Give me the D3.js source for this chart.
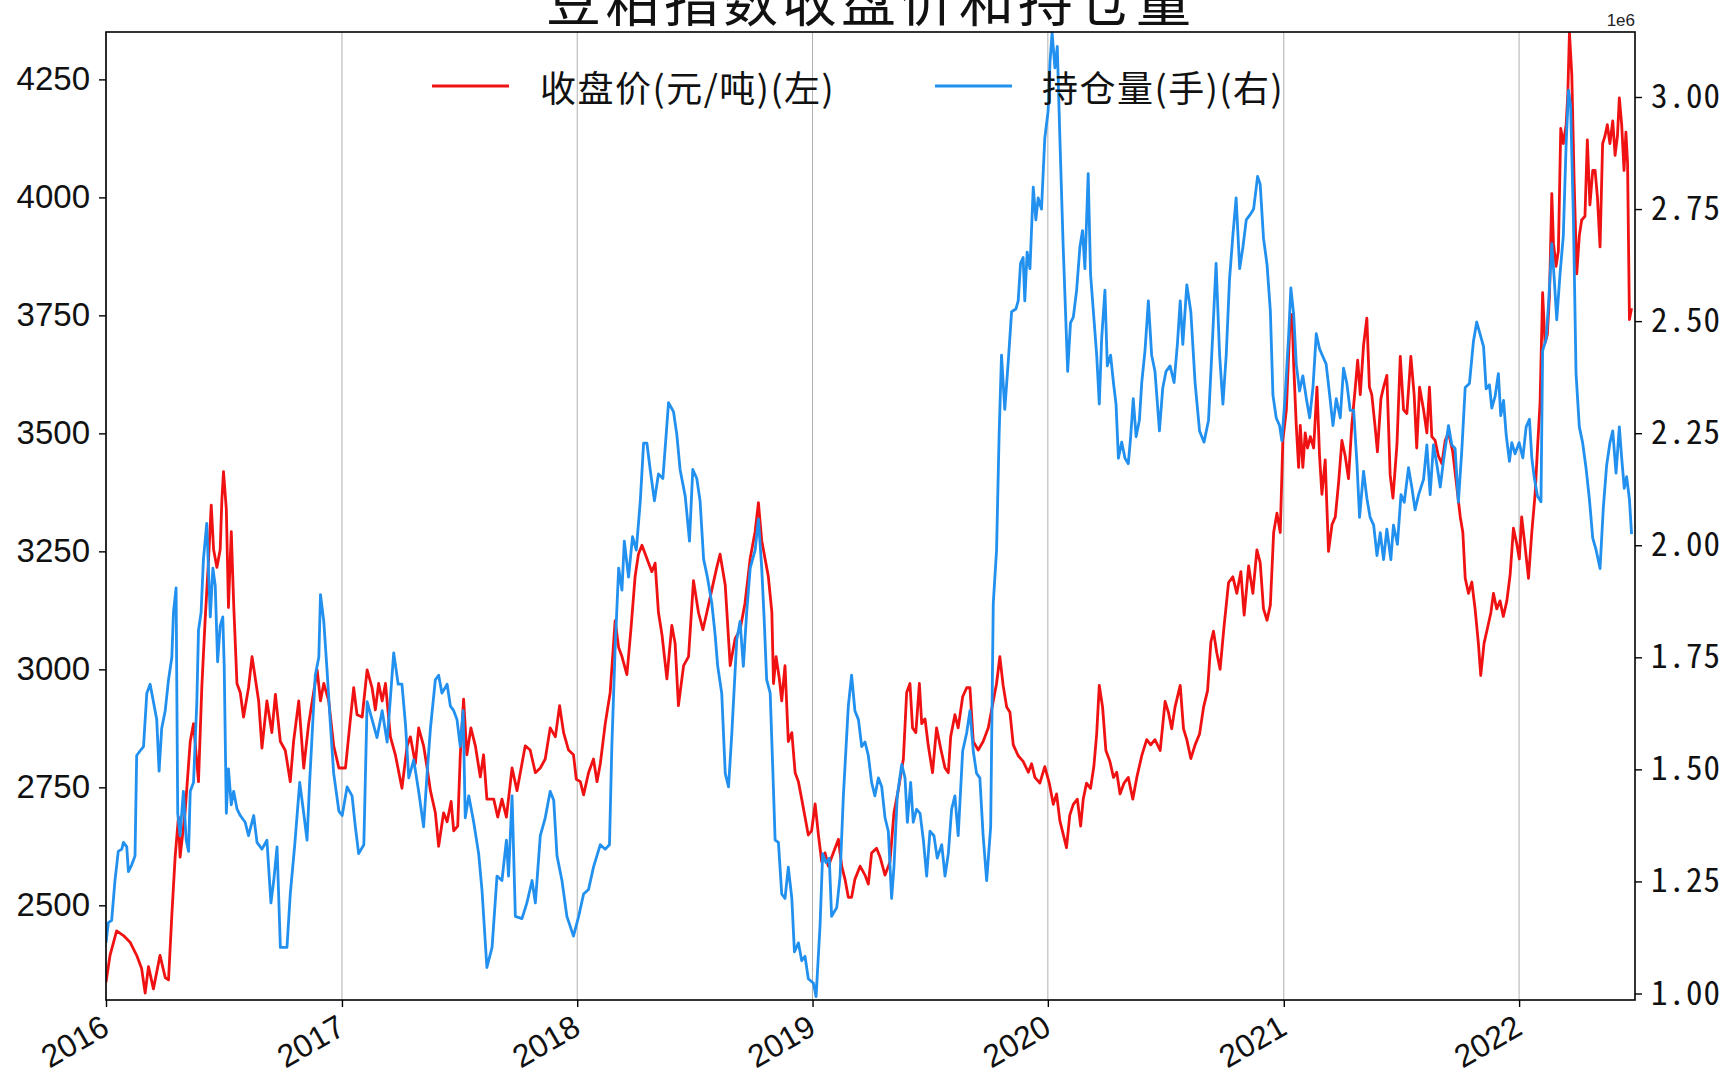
<!DOCTYPE html>
<html><head><meta charset="utf-8">
<script src="https://cdn.jsdelivr.net/npm/d3@7"></script>
<style>
html,body{margin:0;padding:0;background:#fff;}
svg{display:block;}
</style></head><body>
<svg id="chart" width="1729" height="1079"></svg>
<script>
const chartTitle = "豆粕指数收盘价和持仓量";
const seriesNames = ["收盘价(元/吨)(左)", "持仓量(手)(右)"];
const yearTicks = [2016, 2017, 2018, 2019, 2020, 2021, 2022];
const leftTicks = [2500, 2750, 3000, 3250, 3500, 3750, 4000, 4250];
const rightTicks = [1000000, 1250000, 1500000, 1750000, 2000000, 2250000, 2500000, 2750000, 3000000];

// [decimal year, close price (yuan/ton)]
const priceData = [
[2016.000,2337],[2016.017,2394],[2016.045,2446],[2016.074,2436],[2016.102,2422],[2016.130,2394],[2016.151,2366],[2016.166,2314],[2016.180,2370],[2016.201,2323],
[2016.229,2394],[2016.251,2347],[2016.265,2342],[2016.279,2479],[2016.293,2602],[2016.307,2687],[2016.314,2602],[2016.335,2696],[2016.357,2847],[2016.371,2885],
[2016.392,2762],[2016.406,2961],[2016.420,3103],[2016.435,3235],[2016.446,3348],[2016.456,3254],[2016.470,3216],[2016.484,3254],[2016.491,3358],[2016.498,3419],
[2016.510,3339],[2016.519,3131],[2016.531,3292],[2016.541,3140],[2016.555,2970],[2016.569,2951],[2016.583,2899],[2016.604,2961],[2016.619,3027],[2016.633,2980],
[2016.647,2933],[2016.661,2833],[2016.682,2933],[2016.703,2866],[2016.718,2947],[2016.739,2847],[2016.760,2828],[2016.781,2762],[2016.795,2847],[2016.817,2933],
[2016.838,2791],[2016.859,2885],[2016.880,2951],[2016.895,2999],[2016.909,2933],[2016.923,2970],[2016.944,2933],[2016.965,2838],[2016.987,2791],[2017.015,2791],
[2017.036,2895],[2017.050,2961],[2017.064,2904],[2017.086,2899],[2017.107,2999],[2017.128,2961],[2017.142,2914],[2017.156,2970],[2017.171,2933],[2017.185,2970],
[2017.206,2857],[2017.227,2819],[2017.255,2748],[2017.277,2838],[2017.291,2857],[2017.312,2800],[2017.326,2876],
[2017.347,2838],[2017.362,2791],[2017.376,2743],[2017.397,2696],[2017.411,2625],[2017.432,2696],[2017.447,2677],[2017.464,2720],[2017.475,2658],[2017.492,2668],
[2017.503,2819],[2017.517,2937],[2017.531,2819],[2017.548,2876],[2017.567,2838],[2017.588,2772],[2017.602,2819],[2017.616,2725],[2017.645,2725],[2017.662,2687],
[2017.680,2725],[2017.699,2687],[2017.723,2791],[2017.744,2743],[2017.779,2838],[2017.800,2829],[2017.822,2781],[2017.843,2791],[2017.864,2810],[2017.885,2876],
[2017.907,2857],[2017.925,2923],[2017.942,2866],[2017.963,2829],[2017.984,2819],[2017.996,2767],[2018.013,2762],[2018.027,2734],[2018.048,2781],[2018.069,2810],
[2018.084,2762],[2018.098,2800],[2018.119,2885],[2018.140,2951],[2018.161,3103],[2018.176,3046],[2018.190,3027],[2018.211,2989],[2018.228,3084],[2018.246,3197],
[2018.260,3244],[2018.275,3263],[2018.296,3235],[2018.317,3207],[2018.331,3225],[2018.345,3121],[2018.360,3074],[2018.381,2980],[2018.402,3093],[2018.416,3055],
[2018.430,2923],[2018.452,3008],[2018.473,3027],[2018.494,3188],[2018.515,3121],[2018.534,3084],[2018.551,3121],[2018.572,3169],[2018.593,3216],[2018.607,3244],
[2018.629,3178],[2018.650,3008],[2018.671,3065],[2018.692,3084],
[2018.713,3140],[2018.735,3235],[2018.756,3292],[2018.770,3353],[2018.784,3273],[2018.798,3235],[2018.812,3197],[2018.827,3121],[2018.834,2970],[2018.845,3027],
[2018.859,2980],[2018.869,2933],[2018.883,3008],[2018.897,2847],[2018.912,2866],[2018.926,2781],[2018.940,2762],[2018.954,2725],[2018.968,2687],[2018.982,2649],
[2018.996,2658],[2019.011,2715],[2019.025,2649],[2019.039,2592],[2019.053,2611],[2019.067,2583],[2019.088,2611],[2019.110,2640],[2019.124,2583],[2019.138,2555],
[2019.152,2517],[2019.166,2517],[2019.180,2555],[2019.202,2583],[2019.223,2564],[2019.237,2545],[2019.251,2611],[2019.272,2621],[2019.287,2602],[2019.308,2564],
[2019.329,2592],[2019.346,2696],[2019.364,2743],[2019.386,2810],[2019.400,2951],[2019.414,2970],[2019.425,2876],[2019.439,2866],[2019.454,2970],[2019.464,2885],
[2019.478,2895],[2019.492,2838],[2019.510,2781],[2019.527,2876],[2019.546,2829],[2019.563,2791],[2019.577,2781],[2019.587,2857],[2019.605,2904],[2019.619,2876],
[2019.638,2942],[2019.655,2961],[2019.669,2961],[2019.683,2847],[2019.704,2829],[2019.725,2847],[2019.747,2876],[2019.768,2933],[2019.782,2970],[2019.796,3027],
[2019.810,2966],[2019.825,2920],[2019.839,2909],[2019.853,2840],[2019.874,2817],[2019.895,2805],[2019.917,2782],[2019.931,2800],[2019.945,2771],[2019.966,2759],
[2019.987,2794],[2020.006,2759],[2020.023,2714],[2020.037,2736],[2020.051,2679],[2020.068,2645],[2020.079,2622],[2020.093,2691],[2020.108,2714],[2020.125,2725],
[2020.139,2668],[2020.150,2725],[2020.164,2759],[2020.181,2748],[2020.195,2794],[2020.207,2863],[2020.218,2966],[2020.232,2920],[2020.246,2828],[2020.263,2805],
[2020.278,2771],[2020.292,2782],[2020.306,2736],[2020.323,2759],[2020.341,2771],[2020.360,2725],[2020.377,2771],[2020.398,2817],[2020.419,2851],[2020.436,2840],
[2020.454,2851],[2020.476,2828],[2020.497,2932],[2020.511,2909],[2020.525,2874],[2020.539,2920],[2020.561,2966],[2020.575,2874],[2020.589,2851],[2020.606,2811],
[2020.624,2840],[2020.643,2863],[2020.660,2920],[2020.677,2955],[2020.691,3058],[2020.702,3081],[2020.716,3035],[2020.730,3000],[2020.747,3092],[2020.766,3184],
[2020.784,3196],[2020.801,3161],[2020.818,3207],[2020.832,3115],[2020.851,3219],[2020.869,3161],[2020.886,3253],
[2020.900,3226],[2020.914,3128],[2020.929,3104],[2020.943,3136],[2020.957,3290],[2020.971,3331],[2020.985,3290],[2020.996,3485],[2021.011,3550],[2021.025,3720],
[2021.035,3752],[2021.042,3647],[2021.053,3517],[2021.063,3428],[2021.070,3517],[2021.081,3428],[2021.091,3501],[2021.101,3469],[2021.113,3493],[2021.127,3469],
[2021.141,3598],[2021.152,3452],[2021.162,3371],[2021.176,3444],[2021.190,3250],[2021.205,3307],[2021.219,3323],[2021.233,3396],[2021.247,3485],[2021.261,3452],
[2021.275,3404],[2021.289,3517],[2021.304,3598],[2021.314,3655],[2021.325,3582],[2021.339,3687],[2021.353,3744],[2021.364,3598],[2021.374,3582],[2021.389,3509],
[2021.398,3461],[2021.413,3574],[2021.424,3598],[2021.438,3623],[2021.452,3412],[2021.464,3363],[2021.481,3477],[2021.495,3663],[2021.509,3550],[2021.523,3542],
[2021.540,3663],[2021.554,3582],[2021.565,3469],[2021.577,3598],[2021.594,3550],[2021.608,3501],[2021.619,3598],[2021.629,3493],[2021.643,3485],[2021.657,3452],
[2021.672,3436],[2021.686,3485],[2021.700,3501],[2021.718,3461],[2021.735,3388],[2021.750,3323],[2021.761,3290],[2021.771,3193],[2021.785,3161],[2021.799,3185],
[2021.813,3128],[2021.827,3055],[2021.837,2987],[2021.851,3055],[2021.866,3088],[2021.880,3120],[2021.891,3161],[2021.905,3128],[2021.919,3145],[2021.933,3112],
[2021.948,3145],[2021.962,3201],[2021.976,3299],[2021.990,3266],[2022.001,3234],[2022.011,3323],[2022.026,3258],[2022.040,3193],[2022.054,3290],[2022.068,3371],
[2022.078,3466],[2022.089,3563],[2022.100,3798],[2022.110,3692],[2022.120,3709],[2022.129,3790],[2022.139,4008],[2022.146,3903],[2022.157,3854],[2022.167,3887],
[2022.177,4146],[2022.188,4114],[2022.200,4154],[2022.207,4219],[2022.214,4349],[2022.224,4260],[2022.234,4033],[2022.245,3838],[2022.256,3919],[2022.266,3952],
[2022.280,3960],[2022.290,4122],[2022.301,3984],[2022.313,4057],[2022.323,4057],[2022.333,4000],[2022.344,3895],[2022.355,4114],[2022.365,4130],[2022.375,4154],
[2022.386,4114],[2022.398,4162],[2022.408,4089],[2022.418,4130],[2022.426,4211],[2022.436,4154],[2022.446,4057],[2022.454,4138],[2022.461,4073],[2022.469,3741],
[2022.478,3765]
];

// [decimal year, open interest (lots)]
const openInterestData = [
[2016.000,1113000],[2016.010,1158000],[2016.024,1163000],[2016.038,1252000],[2016.052,1317000],[2016.067,1322000],[2016.074,1337000],[2016.088,1327000],[2016.095,1272000],[2016.109,1287000],
[2016.123,1307000],[2016.130,1531000],[2016.144,1541000],[2016.159,1551000],[2016.173,1670000],[2016.187,1690000],[2016.201,1651000],[2016.215,1611000],[2016.225,1496000],[2016.236,1591000],
[2016.251,1631000],[2016.265,1700000],[2016.279,1750000],[2016.286,1850000],[2016.297,1905000],[2016.304,1402000],[2016.314,1352000],[2016.328,1451000],[2016.340,1342000],[2016.350,1317000],
[2016.357,1451000],[2016.371,1471000],[2016.385,1651000],[2016.392,1810000],[2016.403,1850000],[2016.413,1969000],[2016.427,2049000],[2016.442,1840000],[2016.453,1949000],[2016.463,1910000],
[2016.473,1740000],[2016.484,1820000],[2016.495,1840000],[2016.501,1730000],[2016.510,1402000],[2016.519,1501000],[2016.531,1421000],[2016.541,1451000],[2016.555,1412000],[2016.569,1397000],
[2016.590,1382000],[2016.604,1352000],[2016.626,1397000],[2016.640,1337000],[2016.661,1322000],[2016.682,1342000],[2016.699,1202000],[2016.711,1252000],[2016.725,1327000],[2016.739,1103000],
[2016.767,1103000],[2016.781,1222000],[2016.800,1332000],[2016.821,1471000],[2016.838,1402000],[2016.852,1342000],[2016.863,1471000],[2016.873,1571000],[2016.887,1710000],[2016.902,1750000],
[2016.909,1890000],[2016.923,1830000],[2016.937,1720000],[2016.951,1601000],[2016.965,1491000],[2016.987,1407000],[2017.001,1397000],[2017.022,1461000],[2017.043,1441000],[2017.057,1372000],
[2017.071,1312000],[2017.093,1332000],[2017.107,1651000],[2017.128,1611000],[2017.149,1571000],[2017.171,1631000],[2017.192,1561000],[2017.220,1760000],[2017.239,1690000],[2017.255,1690000],
[2017.270,1601000],[2017.284,1481000],[2017.305,1521000],[2017.326,1451000],
[2017.347,1372000],[2017.362,1491000],[2017.376,1591000],[2017.397,1700000],[2017.411,1710000],[2017.425,1670000],[2017.447,1690000],[2017.461,1641000],[2017.475,1631000],[2017.489,1611000],
[2017.503,1551000],[2017.515,1631000],[2017.524,1392000],[2017.539,1441000],[2017.560,1382000],[2017.581,1312000],[2017.595,1232000],[2017.616,1058000],[2017.638,1103000],[2017.659,1262000],
[2017.680,1252000],[2017.699,1342000],[2017.708,1262000],[2017.723,1441000],[2017.737,1172000],[2017.765,1167000],[2017.786,1202000],[2017.808,1252000],[2017.822,1202000],[2017.843,1352000],
[2017.864,1392000],[2017.885,1451000],[2017.900,1431000],[2017.914,1307000],[2017.935,1252000],[2017.956,1172000],[2017.984,1128000],[2018.006,1172000],[2018.027,1222000],[2018.048,1232000],
[2018.069,1282000],[2018.098,1332000],[2018.119,1322000],[2018.137,1332000],[2018.147,1551000],[2018.161,1770000],[2018.176,1949000],[2018.190,1900000],[2018.200,2009000],[2018.218,1929000],
[2018.235,2019000],[2018.251,1989000],[2018.268,2099000],[2018.282,2228000],[2018.296,2228000],[2018.310,2169000],[2018.328,2099000],[2018.345,2159000],[2018.364,2149000],[2018.388,2318000],
[2018.409,2298000],[2018.423,2248000],[2018.437,2169000],[2018.459,2109000],[2018.477,2009000],[2018.491,2169000],[2018.508,2149000],[2018.522,2099000],[2018.537,1969000],[2018.553,1929000],
[2018.572,1870000],[2018.586,1800000],[2018.597,1730000],[2018.614,1670000],[2018.629,1491000],[2018.643,1461000],[2018.657,1581000],[2018.678,1790000],[2018.692,1830000],
[2018.706,1730000],[2018.720,1850000],[2018.735,1949000],[2018.756,1989000],[2018.770,2059000],[2018.784,1949000],[2018.794,1840000],[2018.805,1700000],[2018.820,1670000],[2018.831,1501000],
[2018.841,1342000],[2018.855,1337000],[2018.869,1222000],[2018.883,1212000],[2018.897,1282000],[2018.912,1212000],[2018.923,1093000],[2018.940,1113000],[2018.954,1073000],[2018.968,1083000],
[2018.982,1033000],[2019.004,1023000],[2019.015,993000],[2019.032,1153000],[2019.043,1312000],[2019.057,1292000],[2019.071,1302000],[2019.081,1172000],[2019.103,1192000],[2019.117,1262000],
[2019.131,1441000],[2019.152,1641000],[2019.166,1710000],[2019.180,1631000],[2019.195,1611000],[2019.209,1551000],[2019.223,1561000],[2019.237,1531000],[2019.251,1471000],[2019.265,1441000],
[2019.280,1481000],[2019.294,1461000],[2019.308,1392000],[2019.322,1362000],[2019.336,1212000],[2019.346,1282000],[2019.360,1441000],[2019.379,1511000],[2019.393,1481000],[2019.403,1382000],
[2019.417,1471000],[2019.428,1382000],[2019.442,1411000],[2019.457,1402000],[2019.471,1342000],[2019.485,1262000],[2019.499,1362000],[2019.516,1352000],[2019.530,1302000],[2019.549,1332000],
[2019.563,1262000],[2019.577,1312000],[2019.591,1411000],[2019.605,1441000],[2019.619,1352000],[2019.638,1541000],[2019.655,1581000],[2019.669,1631000],[2019.683,1541000],[2019.697,1491000],
[2019.711,1481000],[2019.725,1352000],[2019.740,1252000],[2019.757,1372000],[2019.768,1870000],[2019.782,1989000],[2019.793,2248000],
[2019.803,2424000],[2019.817,2303000],[2019.832,2412000],[2019.846,2521000],[2019.864,2527000],[2019.874,2545000],[2019.884,2629000],[2019.895,2642000],[2019.902,2545000],[2019.912,2654000],
[2019.924,2617000],[2019.938,2799000],[2019.949,2726000],[2019.959,2775000],[2019.973,2750000],[2019.987,2908000],[2020.001,2968000],[2020.009,3077000],[2020.018,3143000],[2020.030,3065000],
[2020.040,3113000],[2020.051,2908000],[2020.065,2666000],[2020.084,2388000],[2020.096,2496000],[2020.108,2509000],[2020.122,2569000],[2020.136,2666000],[2020.147,2702000],[2020.157,2617000],
[2020.171,2829000],[2020.181,2605000],[2020.193,2521000],[2020.207,2424000],[2020.218,2315000],[2020.228,2460000],[2020.242,2569000],[2020.252,2400000],[2020.266,2424000],[2020.278,2363000],
[2020.289,2315000],[2020.299,2194000],[2020.313,2230000],[2020.327,2194000],[2020.341,2182000],[2020.351,2242000],[2020.362,2327000],[2020.374,2242000],[2020.388,2279000],[2020.398,2363000],
[2020.412,2436000],[2020.426,2545000],[2020.440,2424000],[2020.454,2388000],[2020.473,2255000],[2020.487,2351000],[2020.501,2388000],[2020.518,2400000],[2020.535,2363000],[2020.549,2448000],
[2020.561,2545000],[2020.572,2448000],[2020.589,2581000],[2020.606,2521000],[2020.624,2363000],[2020.643,2255000],[2020.662,2230000],[2020.681,2279000],[2020.699,2472000],[2020.713,2629000],
[2020.728,2424000],[2020.742,2315000],[2020.756,2424000],[2020.770,2593000],[2020.784,2690000],[2020.798,2775000],[2020.813,2617000],[2020.827,2666000],[2020.841,2726000],[2020.858,2738000],
[2020.872,2750000],[2020.889,2823000],
[2020.900,2805000],[2020.914,2685000],[2020.929,2626000],[2020.943,2523000],[2020.954,2335000],[2020.968,2284000],[2020.982,2267000],[2020.992,2233000],[2021.006,2335000],[2021.021,2472000],
[2021.030,2574000],[2021.042,2515000],[2021.053,2404000],[2021.067,2344000],[2021.081,2378000],[2021.096,2327000],[2021.110,2284000],[2021.124,2352000],[2021.138,2472000],[2021.152,2438000],
[2021.166,2421000],[2021.180,2404000],[2021.195,2335000],[2021.209,2267000],[2021.223,2327000],[2021.240,2284000],[2021.254,2395000],[2021.268,2361000],[2021.282,2301000],[2021.297,2301000],
[2021.311,2182000],[2021.322,2062000],[2021.339,2165000],[2021.353,2105000],[2021.367,2062000],[2021.382,2045000],[2021.396,1977000],[2021.410,2028000],[2021.424,1968000],[2021.438,2036000],
[2021.455,1968000],[2021.466,2045000],[2021.483,2002000],[2021.498,2113000],[2021.512,2096000],[2021.530,2173000],[2021.544,2130000],[2021.558,2079000],[2021.573,2113000],[2021.594,2147000],
[2021.608,2224000],[2021.622,2113000],[2021.636,2224000],[2021.650,2182000],[2021.665,2130000],[2021.679,2190000],[2021.700,2267000],[2021.714,2224000],[2021.728,2216000],[2021.742,2096000],
[2021.757,2216000],[2021.771,2352000],[2021.789,2361000],[2021.806,2455000],[2021.820,2498000],
[2021.849,2443000],[2021.860,2349000],[2021.874,2358000],[2021.884,2306000],[2021.898,2332000],[2021.912,2383000],[2021.922,2289000],[2021.934,2323000],[2021.945,2247000],[2021.959,2187000],
[2021.969,2229000],[2021.983,2204000],[2022.000,2229000],[2022.016,2195000],[2022.030,2264000],[2022.044,2281000],[2022.054,2195000],[2022.064,2153000],[2022.078,2110000],[2022.093,2097000],
[2022.100,2434000],[2022.115,2460000],[2022.125,2537000],[2022.139,2673000],[2022.149,2597000],[2022.160,2503000],[2022.174,2605000],[2022.188,2691000],[2022.200,2896000],[2022.210,3015000],
[2022.219,2981000],[2022.231,2725000],[2022.242,2383000],[2022.256,2264000],[2022.270,2229000],[2022.285,2170000],[2022.299,2102000],[2022.313,2016000],[2022.327,1990000],[2022.344,1948000],
[2022.358,2084000],[2022.372,2178000],[2022.386,2229000],[2022.398,2255000],[2022.412,2161000],[2022.426,2264000],[2022.436,2195000],[2022.447,2127000],[2022.457,2153000],[2022.469,2102000],
[2022.478,2025000]
];

function dy(t) {
  const y = Math.floor(t);
  const a = Date.UTC(y, 0, 1), b = Date.UTC(y + 1, 0, 1);
  return new Date(a + (t - y) * (b - a));
}

const svg = d3.select("#chart");
const L = 106, R = 1635, T = 32, B = 1000;
const latin = "'Liberation Sans', Arial, sans-serif";
const cjk = "'Noto Sans CJK SC', sans-serif";
const mono = "'Noto Sans Mono CJK SC', 'DejaVu Sans Mono', monospace";
const red = "#f01212", blue = "#2190ee";

const x = d3.scaleUtc().domain([dy(2016), dy(2022.4926)]).range([L, R]);
const yL = d3.scaleLinear().domain([2299.4, 4350.4]).range([B, T]);
const yR = d3.scaleLinear().domain([985500, 3145000]).range([B, T]);

svg.append("rect").attr("width", 1729).attr("height", 1079).attr("fill", "#fff");

// vertical grid
svg.append("g").selectAll("line").data(yearTicks).join("line")
  .attr("x1", d => x(dy(d))).attr("x2", d => x(dy(d)))
  .attr("y1", T).attr("y2", B)
  .attr("stroke", "#b0b0b0").attr("stroke-width", 1);

svg.append("clipPath").attr("id", "clip").append("rect")
  .attr("x", L).attr("y", T).attr("width", R - L).attr("height", B - T);

const linePrice = d3.line().x(d => x(dy(d[0]))).y(d => yL(d[1]));
const lineOI = d3.line().x(d => x(dy(d[0]))).y(d => yR(d[1]));

svg.append("path").datum(priceData).attr("d", linePrice)
  .attr("fill", "none").attr("stroke", red).attr("stroke-width", 2.8)
  .attr("stroke-linejoin", "round").attr("clip-path", "url(#clip)");
svg.append("path").datum(openInterestData).attr("d", lineOI)
  .attr("fill", "none").attr("stroke", blue).attr("stroke-width", 2.8)
  .attr("stroke-linejoin", "round").attr("clip-path", "url(#clip)");

// frame
svg.append("rect").attr("x", L).attr("y", T).attr("width", R - L).attr("height", B - T)
  .attr("fill", "none").attr("stroke", "#000").attr("stroke-width", 1.6);

// left axis
const gL = svg.append("g").attr("transform", `translate(${L},0)`)
  .call(d3.axisLeft(yL).tickValues(leftTicks).tickSize(7).tickPadding(9).tickFormat(d3.format("d")));
gL.select(".domain").remove();
gL.attr("font-family", latin).attr("font-size", 33);
gL.selectAll("text").attr("fill", "#111");
gL.selectAll("line").attr("stroke", "#000").attr("stroke-width", 1.4);

// right axis
const gR = svg.append("g").attr("transform", `translate(${R},0)`)
  .call(d3.axisRight(yR).tickValues(rightTicks).tickSize(7).tickPadding(9)
    .tickFormat(d => d3.format(".2f")(d / 1e6)));
gR.select(".domain").remove();
gR.attr("font-family", mono).attr("font-size", 33);
gR.selectAll("text").attr("fill", "#111").attr("letter-spacing", 1);
gR.selectAll("line").attr("stroke", "#000").attr("stroke-width", 1.4);

// bottom axis
const gB = svg.append("g").attr("transform", `translate(0,${B})`)
  .call(d3.axisBottom(x).tickValues(yearTicks.map(dy)).tickSize(7).tickFormat(d3.utcFormat("%Y")));
gB.select(".domain").remove();
gB.attr("font-family", latin).attr("font-size", 32);
gB.selectAll("line").attr("stroke", "#000").attr("stroke-width", 1.4);
gB.selectAll("text").attr("fill", "#111")
  .attr("y", null).attr("dy", null)
  .attr("text-anchor", "end")
  .attr("dominant-baseline", "hanging")
  .attr("transform", "translate(-7,13) rotate(-30)");

// offset label
svg.append("text").attr("x", R).attr("y", 26).attr("text-anchor", "end")
  .attr("font-family", latin).attr("font-size", 17).attr("fill", "#222").text("1e6");

// title (partly cut off at the top as in the reference)
svg.append("text").attr("x", (L + R) / 2).attr("y", 21).attr("text-anchor", "middle")
  .attr("font-family", cjk).attr("font-size", 55).attr("letter-spacing", 4)
  .attr("fill", "#111").text(chartTitle);

// legend
const legendItems = [
  {name: seriesNames[0], color: red, x0: 432, x1: 509, tx: 540},
  {name: seriesNames[1], color: blue, x0: 935, x1: 1012, tx: 1042}
];
const lg = svg.append("g");
legendItems.forEach(it => {
  lg.append("line").attr("x1", it.x0).attr("x2", it.x1).attr("y1", 86).attr("y2", 86)
    .attr("stroke", it.color).attr("stroke-width", 2.8);
  lg.append("text").attr("x", it.tx).attr("y", 86).attr("dominant-baseline", "central")
    .attr("font-family", cjk).attr("font-size", 36)
    .attr("letter-spacing", 1.5).attr("fill", "#111").text(it.name);
});
</script>
</body></html>
